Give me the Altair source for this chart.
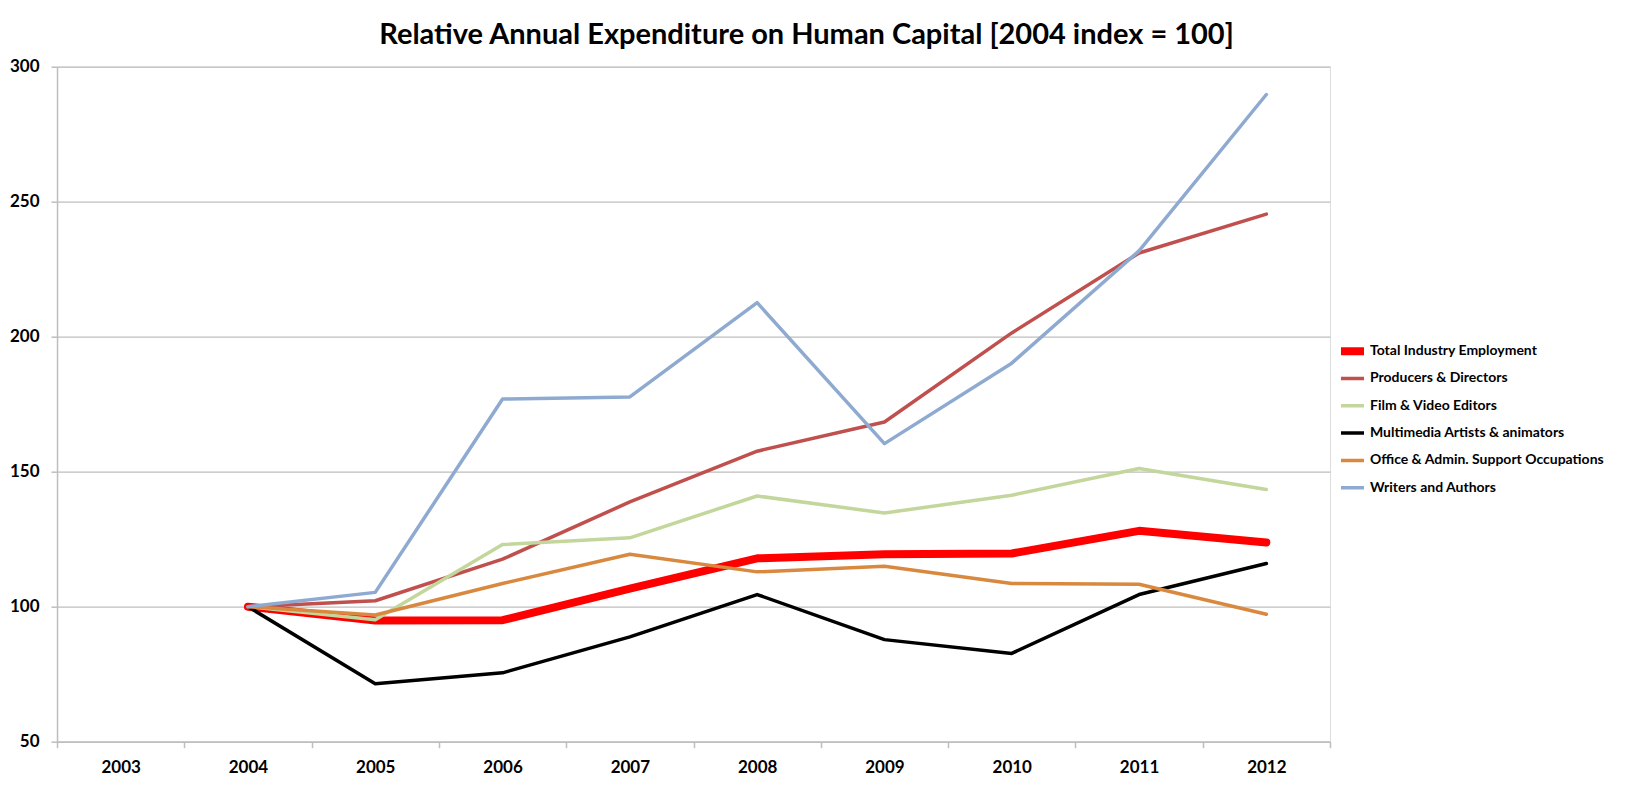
import altair as alt
import pandas as pd

years = ["2003", "2004", "2005", "2006", "2007", "2008", "2009", "2010", "2011", "2012"]
series_names = [
    "Total Industry Employment",
    "Producers & Directors",
    "Film & Video Editors",
    "Multimedia Artists & animators",
    "Office & Admin. Support Occupations",
    "Writers and Authors",
]
total = [None, 100, 94.9, 95.0, 106.7, 117.9, 119.4, 119.7, 128.1, 123.8]
producers = [None, 100, 102.2, 117.6, 138.8, 157.6, 168.4, 201.4, 231.0, 245.4]
film = [None, 100, 95.2, 123.0, 125.5, 141.0, 134.7, 141.3, 151.2, 143.4]
multimedia = [None, 100, 71.5, 75.5, 88.8, 104.5, 87.8, 82.7, 104.5, 116.0]
office = [None, 100, 96.9, 108.6, 119.4, 112.9, 115.0, 108.6, 108.3, 97.2]
writers = [None, 100, 105.3, 176.9, 177.7, 212.6, 160.4, 190.2, 231.8, 289.7]

colors = ["#FF0000", "#C0504D", "#C3D69B", "#000000", "#D9893F", "#8FAAD0"]
widths = [8, 3.5, 3.5, 3.5, 3.5, 3.5]
y_ticks = [50, 100, 150, 200, 250, 300]

rows = []
for name, vals in zip(series_names, [total, producers, film, multimedia, office, writers]):
    for yr, v in zip(years, vals):
        if v is not None:
            rows.append({"Year": yr, "Series": name, "Value": v})
df = pd.DataFrame(rows)

FONT = "Lato"
GRID = "#BEBEBE"

legend_opts = dict(
    title=None, orient="none", legendX=1280, legendY=274,
    symbolType="stroke", symbolSize=529, labelOffset=2, rowPadding=6.3, clipHeight=21,
    labelLimit=0,
    labelFont=FONT, labelFontSize=14, labelFontWeight="bold", labelColor="#000000",
)

chart = alt.Chart(df).mark_line(strokeCap="round", strokeJoin="round").encode(
    x=alt.X(
        "Year:O",
        bandPosition=0.5,
        scale=alt.Scale(type="band", domain=years, paddingInner=0, paddingOuter=0),
        axis=alt.Axis(
            title=None, labelAngle=0, tickBand="extent", tickSize=6, tickColor=GRID,
            tickWidth=1.5, domainColor=GRID, domainWidth=1.5, grid=False,
            labelFont=FONT, labelFontSize=17, labelFontWeight="bold", labelColor="#000000",
            labelPadding=12,
        ),
    ),
    y=alt.Y(
        "Value:Q",
        scale=alt.Scale(domain=[50, 300], nice=False, zero=False),
        axis=alt.Axis(
            title=None, values=y_ticks, grid=True, gridColor=GRID, gridWidth=1.3,
            domainColor=GRID, domainWidth=1.5, tickColor=GRID, tickWidth=1.5, tickSize=6,
            labelFont=FONT, labelFontSize=17, labelFontWeight="bold", labelColor="#000000",
            labelPadding=12,
        ),
    ),
    color=alt.Color(
        "Series:N",
        scale=alt.Scale(domain=series_names, range=colors),
        sort=series_names,
        legend=alt.Legend(**legend_opts),
    ),
    strokeWidth=alt.StrokeWidth(
        "Series:N",
        scale=alt.Scale(type="ordinal", domain=series_names, range=widths),
        sort=series_names,
        legend=alt.Legend(**legend_opts),
    ),
).properties(
    width=1273,
    height=675,
    title=alt.TitleParams(
        "Relative Annual Expenditure on Human Capital [2004 index = 100]",
        font=FONT, fontSize=29, fontWeight="bold", color="#000000",
        anchor="middle", frame="group", dx=113, dy=31, offset=16, baseline="alphabetic",
    ),
    autosize=alt.AutoSizeParams(type="none"),
    padding={"left": 49, "top": 58.7, "right": 292, "bottom": 38},
).configure_view(strokeWidth=0).configure(background="white")

chart.save("out.html", embed_options={"renderer": "svg", "actions": False})
